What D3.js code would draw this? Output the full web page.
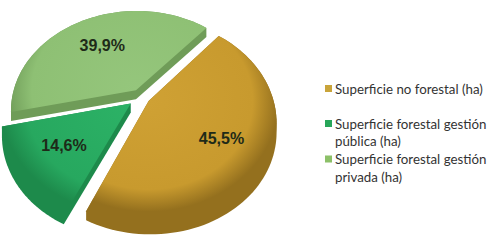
<!DOCTYPE html>
<html><head><meta charset="utf-8">
<script src="https://cdn.jsdelivr.net/npm/d3@7"></script>
<style>
html,body{margin:0;padding:0;background:#fff;}
svg{display:block;}
</style></head>
<body>
<svg id="chart" width="491" height="240"></svg>
<script>
// ---- data ----
const categories = ["Superficie no forestal (ha)", "Superficie forestal gestión pública (ha)", "Superficie forestal gestión privada (ha)"];
const legendLines = [["Superficie no forestal (ha)"], ["Superficie forestal gestión", "pública (ha)"], ["Superficie forestal gestión", "privada (ha)"]];
const values = [45.5, 14.6, 39.9];
const valueLabels = ["45,5%", "14,6%", "39,9%"];

// ---- style / layout ----
const topColors  = ["#cfa134", "#2cb266", "#95c67c"];
const midColors  = ["#c89a2e", "#27a85f", "#8ec074"];
const sideColors = ["#94701e", "#1d8a4b", "#6f9c58"];
const legendColors = ["#c9a43a", "#27a659", "#8cc068"];
const explode = [9, 13, 10];
const labelR = [0.64, 0.62, 0.6];
const R = 124, cx = 141, cy = 97, tilt = 38 * Math.PI / 180, D = 380, depth = 9;
const startDeg = 41;

const svg = d3.select("#chart");
const defs = svg.append("defs");
const sinT = Math.sin(tilt), cosT = Math.cos(tilt);
function proj(px, py) {
  const s = D / (D - py * sinT);
  return [cx + px * s, cy + py * cosT * s];
}

const pie = d3.pie().sort(null).value(d => d)
  .startAngle(startDeg * Math.PI / 180).endAngle(startDeg * Math.PI / 180 + 2 * Math.PI);
const arcs = pie(values);

const slices = arcs.map((a, i) => {
  const m = (a.startAngle + a.endAngle) / 2;
  const ox = explode[i] * Math.sin(m), oy = -explode[i] * Math.cos(m);
  const pts = [proj(ox, oy)];
  const n = 80;
  for (let k = 0; k <= n; k++) {
    const t = a.startAngle + (a.endAngle - a.startAngle) * k / n;
    pts.push(proj(ox + R * Math.sin(t), oy - R * Math.cos(t)));
  }
  const lr = labelR[i] * R;
  const lab = proj(ox + lr * Math.sin(m), oy - lr * Math.cos(m));
  const c = proj(ox, oy);
  return {i, pts, lab, c};
});

// soft rim shading
slices.forEach(s => {
  const gr = defs.append("radialGradient").attr("id", "g" + s.i)
    .attr("gradientUnits", "userSpaceOnUse")
    .attr("cx", s.c[0]).attr("cy", s.c[1]).attr("r", R * 1.05)
    .attr("gradientTransform", `translate(${s.c[0]},${s.c[1]}) scale(1,0.85) translate(${-s.c[0]},${-s.c[1]})`);
  gr.append("stop").attr("offset", 0).attr("stop-color", topColors[s.i]);
  gr.append("stop").attr("offset", 0.8).attr("stop-color", midColors[s.i]);
  gr.append("stop").attr("offset", 1).attr("stop-color", sideColors[s.i]);
});

const line = d3.line().curve(d3.curveLinearClosed);
const drawOrder = [2, 1, 0];
const g = svg.append("g");
drawOrder.forEach(i => {
  const s = slices[i];
  const all = s.pts.concat(s.pts.map(p => [p[0], p[1] + depth]));
  const hull = d3.polygonHull(all);
  g.append("path").attr("d", line(hull)).attr("fill", sideColors[i]);
  g.append("path").attr("d", line(s.pts)).attr("fill", `url(#g${i})`);
});

slices.forEach(s => {
  svg.append("text")
    .attr("x", s.lab[0]).attr("y", s.lab[1])
    .attr("text-anchor", "middle").attr("dominant-baseline", "central")
    .attr("font-family", "Liberation Sans, Arial, sans-serif")
    .attr("font-weight", "bold").attr("font-size", 16)
    .attr("fill", "#1e2a18")
    .text(valueLabels[s.i]);
});

// legend
const legY = [93.5, 128.5, 164];
const lineH = 17.5;
legendLines.forEach((lines, i) => {
  svg.append("rect").attr("x", 325).attr("y", legY[i] - 8.5).attr("width", 7).attr("height", 7)
    .attr("fill", legendColors[i]);
  lines.forEach((t, j) => {
    svg.append("text").attr("x", 335).attr("y", legY[i] + j * lineH)
      .attr("font-family", "Lato, 'Open Sans', sans-serif").attr("font-size", 13.3)
      .attr("fill", "#333").text(t);
  });
});
</script>
</body></html>
